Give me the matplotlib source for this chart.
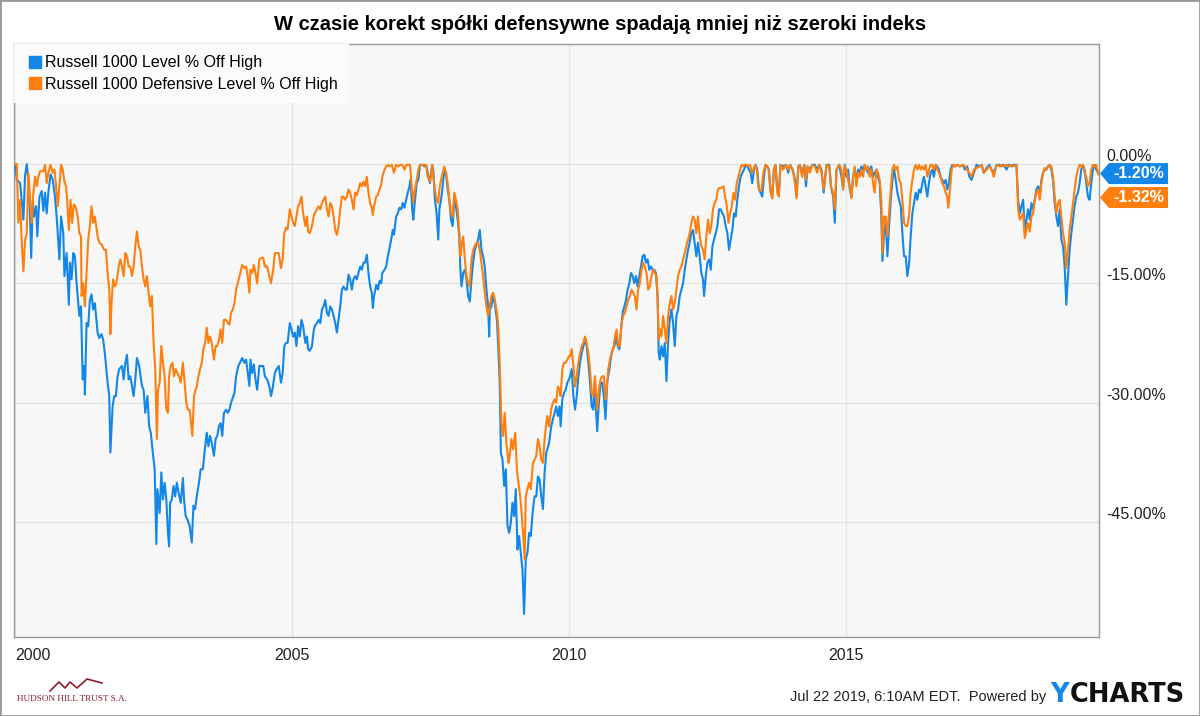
import matplotlib.pyplot as plt
from matplotlib.lines import Line2D
from matplotlib.patches import Polygon, Rectangle
from matplotlib.transforms import IdentityTransform

plt.rcParams['font.family'] = ['Liberation Sans', 'DejaVu Sans']

title = "W czasie korekt spółki defensywne spadają mniej niż szeroki indeks"
series_names = ["Russell 1000 Level % Off High", "Russell 1000 Defensive Level % Off High"]
blue = '#1287e8'
orange = '#ff7f0e'

year_ticks = [2000, 2005, 2010, 2015]
pct_ticks = [0, -15, -30, -45]
footer = "Jul 22 2019, 6:10AM EDT.  Powered by"

# (decimal year, % off high)
r1000_pts = [
    (2000.00, 0.0), (2000.03, -2.0), (2000.09, -2.4), (2000.15, -7.0), (2000.18, -1.5), (2000.21, 0.0),
    (2000.24, -2.0), (2000.27, -6.6), (2000.29, -11.8), (2000.32, -4.5), (2000.34, -6.6), (2000.38, -5.3),
    (2000.40, -9.1), (2000.44, -4.1), (2000.48, -3.4), (2000.51, -5.9), (2000.54, -3.6), (2000.57, -6.2),
    (2000.60, -3.6), (2000.64, -1.3), (2000.68, -2.0), (2000.72, -4.1), (2000.75, -6.6), (2000.80, -12.0),
    (2000.83, -6.6), (2000.87, -8.7), (2000.89, -14.1), (2000.93, -11.2), (2000.97, -17.7), (2000.99, -12.4),
    (2001.02, -14.5), (2001.05, -11.2), (2001.08, -11.6), (2001.11, -15.0), (2001.16, -19.1), (2001.19, -17.9),
    (2001.22, -27.1), (2001.25, -25.4), (2001.26, -29.0), (2001.29, -20.0), (2001.32, -20.4), (2001.35, -17.1),
    (2001.38, -16.4), (2001.41, -18.3), (2001.44, -17.5), (2001.49, -21.2), (2001.52, -21.9), (2001.56, -21.4),
    (2001.59, -22.1), (2001.62, -23.8), (2001.67, -27.5), (2001.70, -29.2), (2001.72, -36.3), (2001.76, -30.5),
    (2001.79, -29.2), (2001.82, -29.2), (2001.85, -26.7), (2001.88, -25.8), (2001.93, -25.4), (2001.96, -27.1),
    (2001.99, -25.0), (2002.02, -24.0), (2002.05, -27.1), (2002.08, -26.7), (2002.11, -27.9), (2002.14, -29.2),
    (2002.17, -27.1), (2002.20, -24.4), (2002.24, -25.4), (2002.29, -27.9), (2002.32, -28.4), (2002.35, -31.3),
    (2002.39, -29.2), (2002.42, -33.0), (2002.45, -33.8), (2002.48, -35.9), (2002.52, -38.4), (2002.55, -47.8),
    (2002.57, -40.9), (2002.61, -43.9), (2002.64, -38.8), (2002.67, -42.2), (2002.70, -40.1), (2002.73, -42.2),
    (2002.76, -46.4), (2002.78, -48.1), (2002.80, -42.6), (2002.83, -42.2), (2002.86, -40.5), (2002.89, -41.8),
    (2002.92, -40.1), (2002.95, -41.3), (2002.99, -42.6), (2003.03, -39.5), (2003.05, -42.2), (2003.08, -44.3),
    (2003.11, -44.7), (2003.15, -45.5), (2003.19, -47.6), (2003.22, -43.0), (2003.25, -43.4), (2003.28, -41.8),
    (2003.32, -40.1), (2003.35, -38.4), (2003.39, -38.4), (2003.42, -36.3), (2003.46, -33.8), (2003.49, -35.5),
    (2003.52, -34.2), (2003.55, -35.1), (2003.59, -36.7), (2003.62, -34.6), (2003.65, -34.2), (2003.68, -33.0),
    (2003.71, -32.6), (2003.74, -34.2), (2003.77, -31.3), (2003.81, -30.9), (2003.84, -31.3), (2003.87, -30.9),
    (2003.90, -30.0), (2003.93, -29.4), (2003.96, -28.8), (2003.99, -26.7), (2004.03, -25.4), (2004.06, -25.0),
    (2004.10, -24.4), (2004.14, -25.0), (2004.17, -24.6), (2004.20, -26.3), (2004.23, -27.9), (2004.25, -24.6),
    (2004.28, -26.3), (2004.31, -25.2), (2004.34, -27.1), (2004.37, -28.4), (2004.41, -25.4), (2004.45, -25.4),
    (2004.48, -25.4), (2004.51, -26.7), (2004.55, -27.1), (2004.59, -27.9), (2004.62, -29.2), (2004.65, -28.2),
    (2004.69, -26.3), (2004.72, -25.8), (2004.76, -25.4), (2004.80, -27.5), (2004.83, -26.3), (2004.86, -22.9),
    (2004.89, -22.5), (2004.92, -22.5),
    (2004.96, -20.0), (2004.99, -20.8), (2005.02, -21.7), (2005.05, -21.2), (2005.08, -22.9), (2005.11, -20.4),
    (2005.14, -21.7), (2005.17, -19.6), (2005.20, -20.4), (2005.24, -22.5), (2005.27, -21.7), (2005.29, -23.3),
    (2005.32, -23.5), (2005.36, -22.9), (2005.39, -21.0), (2005.41, -20.4), (2005.45, -20.0), (2005.48, -19.6),
    (2005.51, -20.0), (2005.54, -18.3), (2005.57, -17.9), (2005.60, -17.1), (2005.63, -18.7), (2005.66, -19.1),
    (2005.69, -17.9), (2005.72, -18.3), (2005.75, -19.1), (2005.78, -20.0), (2005.81, -21.2), (2005.84, -19.6),
    (2005.87, -17.9), (2005.90, -15.8), (2005.93, -15.4), (2005.96, -15.8), (2005.99, -15.8), (2006.02, -13.9),
    (2006.05, -14.5), (2006.08, -15.8), (2006.11, -14.5), (2006.14, -14.1), (2006.17, -14.5), (2006.20, -13.7),
    (2006.23, -12.9), (2006.26, -13.3), (2006.29, -12.4), (2006.32, -12.4), (2006.35, -11.4), (2006.38, -13.7),
    (2006.41, -15.4), (2006.44, -16.2), (2006.46, -18.1), (2006.48, -16.6), (2006.52, -15.2), (2006.55, -15.8),
    (2006.58, -14.7), (2006.61, -15.0), (2006.63, -13.7), (2006.67, -13.3), (2006.70, -12.9), (2006.73, -11.6),
    (2006.76, -10.6), (2006.79, -9.5), (2006.82, -8.3), (2006.84, -8.9), (2006.88, -6.6), (2006.91, -6.2),
    (2006.94, -5.5), (2006.97, -5.7), (2007.00, -4.9), (2007.03, -5.5), (2007.06, -4.5), (2007.09, -3.6),
    (2007.12, -2.8), (2007.14, -2.0), (2007.17, -5.7), (2007.19, -7.0), (2007.21, -5.3), (2007.25, -2.4),
    (2007.28, -2.0), (2007.31, -0.1), (2007.35, -0.1), (2007.39, -0.3), (2007.42, -0.1), (2007.45, -1.1),
    (2007.49, -2.4), (2007.53, -0.1), (2007.55, -0.7), (2007.58, -4.5), (2007.61, -6.2), (2007.64, -9.5),
    (2007.66, -5.7), (2007.69, -4.5), (2007.72, -2.8), (2007.75, -0.7), (2007.78, -1.1), (2007.81, -3.2),
    (2007.84, -4.5), (2007.87, -7.0), (2007.90, -7.8), (2007.93, -4.5), (2007.96, -5.3), (2007.99, -7.0),
    (2008.02, -9.1), (2008.04, -13.3), (2008.06, -15.4), (2008.09, -13.7), (2008.12, -13.3), (2008.15, -14.5),
    (2008.18, -16.6), (2008.21, -17.3), (2008.24, -14.5), (2008.27, -12.4), (2008.30, -10.8), (2008.33, -10.1),
    (2008.36, -9.5), (2008.39, -8.3), (2008.42, -10.8), (2008.45, -11.6), (2008.48, -12.9), (2008.51, -15.8),
    (2008.54, -17.9), (2008.56, -21.7), (2008.57, -18.3), (2008.60, -17.9), (2008.63, -16.6), (2008.66, -17.5),
    (2008.70, -19.6), (2008.72, -22.5), (2008.75, -27.5), (2008.77, -36.3), (2008.80, -37.2), (2008.83, -40.5),
    (2008.86, -38.4), (2008.89, -45.5), (2008.92, -46.4), (2008.95, -45.1), (2008.98, -42.6), (2009.01, -44.3),
    (2009.04, -40.9), (2009.07, -48.5), (2009.10, -46.8), (2009.13, -48.9), (2009.16, -51.0), (2009.19, -56.6),
    (2009.22, -49.7), (2009.25, -48.9), (2009.28, -46.4), (2009.31, -46.8), (2009.35, -43.4), (2009.38, -41.8),
    (2009.41, -41.8), (2009.44, -39.3), (2009.47, -39.7), (2009.50, -41.8), (2009.53, -43.4), (2009.56, -38.8),
    (2009.59, -36.3), (2009.61, -35.9), (2009.64, -35.1), (2009.68, -33.0), (2009.71, -32.1), (2009.74, -31.3),
    (2009.77, -30.5), (2009.80, -31.7), (2009.83, -30.5), (2009.85, -33.0), (2009.88, -29.6), (2009.91, -28.8),
    (2009.94, -28.4), (2009.97, -27.5), (2010.00, -27.1),
    (2010.02, -26.7), (2010.05, -25.8), (2010.08, -29.2), (2010.11, -30.9), (2010.14, -29.2), (2010.17, -26.7),
    (2010.20, -25.0), (2010.23, -23.8), (2010.26, -22.9), (2010.29, -22.1), (2010.32, -22.9), (2010.35, -25.0),
    (2010.38, -27.5), (2010.41, -30.5), (2010.44, -30.9), (2010.46, -27.5), (2010.48, -30.0), (2010.51, -33.6),
    (2010.54, -30.0), (2010.57, -27.5), (2010.60, -27.5), (2010.63, -29.2), (2010.66, -32.1), (2010.69, -27.5),
    (2010.73, -25.8), (2010.76, -24.2), (2010.79, -23.3), (2010.82, -22.9), (2010.85, -21.7), (2010.88, -22.9),
    (2010.91, -23.3), (2010.94, -20.8), (2010.97, -18.7), (2011.00, -17.9), (2011.03, -17.1), (2011.06, -15.8),
    (2011.09, -15.0), (2011.12, -13.7), (2011.15, -14.1), (2011.18, -15.0), (2011.21, -14.1), (2011.24, -15.4),
    (2011.27, -14.1), (2011.30, -12.9), (2011.33, -11.6), (2011.36, -11.4), (2011.39, -12.4), (2011.42, -12.0),
    (2011.45, -13.3), (2011.48, -12.9), (2011.51, -13.3), (2011.54, -13.3), (2011.57, -13.7), (2011.60, -16.6),
    (2011.62, -23.8), (2011.64, -24.6), (2011.67, -22.9), (2011.70, -24.2), (2011.73, -22.5), (2011.76, -27.3),
    (2011.79, -22.5), (2011.82, -19.6), (2011.85, -18.3), (2011.88, -20.0), (2011.91, -22.9), (2011.94, -19.1),
    (2011.97, -18.3), (2012.00, -16.6), (2012.03, -15.8), (2012.06, -15.0), (2012.09, -13.3), (2012.12, -12.0),
    (2012.15, -10.8), (2012.18, -9.9), (2012.21, -8.7), (2012.24, -8.3), (2012.27, -9.9), (2012.30, -11.6),
    (2012.33, -9.9), (2012.36, -11.6), (2012.39, -13.7), (2012.42, -14.5), (2012.44, -16.6), (2012.47, -14.1),
    (2012.50, -12.4), (2012.53, -12.0), (2012.56, -13.3), (2012.59, -10.3), (2012.62, -9.5), (2012.65, -8.7),
    (2012.68, -7.8), (2012.71, -5.7), (2012.74, -5.7), (2012.77, -6.2), (2012.80, -6.6), (2012.83, -7.8),
    (2012.86, -8.7), (2012.89, -10.8), (2012.92, -9.5), (2012.95, -8.3), (2012.98, -6.2), (2013.01, -6.6),
    (2013.04, -4.5), (2013.07, -2.8), (2013.10, -1.6), (2013.13, -1.1), (2013.16, -0.7), (2013.19, -0.1),
    (2013.22, -0.3), (2013.25, -0.7), (2013.28, -1.1), (2013.31, -2.4), (2013.34, -0.7), (2013.37, -0.1),
    (2013.40, -0.7), (2013.43, -3.2), (2013.46, -3.6), (2013.49, -4.1), (2013.52, -1.6), (2013.55, -0.1),
    (2013.58, -0.3), (2013.61, -0.7), (2013.64, -3.2), (2013.67, -4.3), (2013.70, -0.7), (2013.73, -0.1),
    (2013.76, -3.2), (2013.79, -3.6), (2013.82, -0.1), (2013.87, -0.3), (2013.92, -0.1), (2013.96, -1.1),
    (2013.99, -0.1), (2014.04, -0.7), (2014.08, -2.0), (2014.11, -4.1), (2014.14, -0.3), (2014.17, -0.1),
    (2014.21, -1.1), (2014.25, -0.1), (2014.28, -2.8), (2014.31, -0.3), (2014.35, -0.7), (2014.39, -0.1),
    (2014.44, -0.1), (2014.48, -0.7), (2014.52, -0.1), (2014.56, -0.7), (2014.60, -3.6), (2014.65, -0.1),
    (2014.70, -0.1), (2014.73, -2.8), (2014.77, -4.1), (2014.80, -7.4), (2014.83, -0.7), (2014.88, -0.1),
    (2014.92, -1.6), (2014.95, -3.2), (2014.98, -0.1), (2015.01, -1.6), (2015.04, -0.7), (2015.07, -3.2),
    (2015.10, -4.1), (2015.13, -1.6), (2015.16, -0.7), (2015.19, -2.0), (2015.22, -0.7), (2015.25, -1.1),
    (2015.28, -0.3), (2015.31, -0.7), (2015.34, -0.1), (2015.37, -0.7), (2015.40, -1.1), (2015.43, -0.7),
    (2015.46, -0.3), (2015.49, -1.6), (2015.52, -1.1), (2015.55, -0.7), (2015.58, -1.6), (2015.61, -2.4),
    (2015.64, -6.6), (2015.66, -12.2), (2015.69, -8.7), (2015.72, -7.4), (2015.75, -11.6), (2015.78, -7.8),
    (2015.81, -4.5), (2015.84, -2.0), (2015.87, -0.7), (2015.90, -2.0), (2015.93, -3.6), (2015.96, -4.5),
    (2015.99, -5.3), (2016.02, -8.7), (2016.05, -11.6), (2016.08, -11.6), (2016.11, -14.1), (2016.14, -12.6),
    (2016.17, -9.1), (2016.20, -6.2), (2016.23, -4.9), (2016.26, -3.6), (2016.29, -4.5), (2016.32, -3.2),
    (2016.35, -3.6), (2016.38, -2.4), (2016.41, -1.6), (2016.44, -2.8), (2016.47, -4.1), (2016.50, -2.4),
    (2016.53, -1.1), (2016.56, -0.7), (2016.59, -1.6), (2016.62, -0.1), (2016.65, -0.3), (2016.68, -0.7),
    (2016.71, -1.6), (2016.74, -2.0), (2016.77, -2.4), (2016.80, -2.0), (2016.83, -3.2), (2016.86, -2.4),
    (2016.89, -0.7), (2016.92, -0.1), (2016.97, -0.3), (2017.01, -0.1), (2017.06, -0.3), (2017.11, -0.1),
    (2017.15, -0.7), (2017.19, -0.3), (2017.23, -1.6), (2017.27, -2.0), (2017.31, -1.1), (2017.36, -0.1),
    (2017.41, -0.3), (2017.45, -0.1), (2017.49, -1.1), (2017.54, -0.5), (2017.59, -0.1), (2017.63, -0.7),
    (2017.67, -1.1), (2017.72, -0.1), (2017.77, -0.1), (2017.81, -0.3), (2017.85, -0.1), (2017.90, -0.7),
    (2017.94, -0.1), (2017.99, -0.3), (2018.03, -0.1), (2018.08, -0.1), (2018.11, -4.5), (2018.14, -6.2),
    (2018.17, -5.3), (2018.20, -4.5), (2018.23, -8.3), (2018.26, -7.0), (2018.29, -5.7), (2018.32, -7.0),
    (2018.35, -4.9), (2018.38, -5.7), (2018.41, -4.5), (2018.44, -3.2), (2018.47, -2.8), (2018.50, -4.1),
    (2018.53, -2.0), (2018.56, -1.1), (2018.59, -0.7), (2018.62, -0.7), (2018.65, -0.3), (2018.68, -0.1),
    (2018.71, -0.7), (2018.74, -2.0), (2018.77, -4.9), (2018.80, -6.6), (2018.83, -7.8), (2018.86, -5.7),
    (2018.89, -9.5), (2018.92, -10.3), (2018.95, -12.9), (2018.98, -17.7), (2019.01, -14.1), (2019.04, -10.8),
    (2019.07, -8.7), (2019.10, -7.0), (2019.13, -5.3), (2019.16, -4.1), (2019.19, -3.6), (2019.22, -2.4),
    (2019.25, -0.7), (2019.28, -0.1), (2019.31, -0.7), (2019.34, -2.4), (2019.37, -4.1), (2019.40, -4.5),
    (2019.43, -2.4), (2019.46, -0.7), (2019.49, -0.1), (2019.52, -0.7), (2019.56, -1.20),
]

defensive_pts = [
    (2000.00, 0.0), (2000.03, 0.0), (2000.06, -7.4), (2000.09, -4.5), (2000.12, -9.9), (2000.15, -13.5),
    (2000.18, -9.5), (2000.21, -8.7), (2000.24, -1.1), (2000.27, -4.5), (2000.30, -7.4), (2000.33, -3.6),
    (2000.36, -1.6), (2000.39, -2.8), (2000.42, -1.6), (2000.45, -0.9), (2000.51, -0.9), (2000.54, -0.1),
    (2000.57, -2.4), (2000.60, -1.1), (2000.64, -0.1), (2000.68, -1.1), (2000.71, -0.7), (2000.74, -2.8),
    (2000.77, -5.3), (2000.80, -2.8), (2000.83, -0.1), (2000.86, -0.7), (2000.89, -2.2), (2000.92, -2.8),
    (2000.94, -4.5), (2000.97, -8.3), (2001.00, -4.5), (2001.03, -7.4), (2001.06, -5.1), (2001.09, -5.3),
    (2001.13, -6.6), (2001.16, -8.7), (2001.19, -9.1), (2001.20, -16.6), (2001.23, -15.0), (2001.26, -17.9),
    (2001.29, -13.7), (2001.32, -9.5), (2001.35, -7.8), (2001.38, -5.3), (2001.41, -7.4), (2001.44, -6.6),
    (2001.49, -9.1), (2001.52, -9.9), (2001.56, -10.1), (2001.61, -10.8), (2001.64, -10.8), (2001.67, -13.7),
    (2001.70, -15.8), (2001.72, -21.4), (2001.74, -17.5), (2001.77, -14.5), (2001.80, -15.4), (2001.83, -15.0),
    (2001.87, -12.9), (2001.90, -12.0), (2001.93, -12.9), (2001.96, -14.1), (2001.99, -11.2), (2002.02, -11.6),
    (2002.05, -12.9), (2002.08, -12.9), (2002.11, -14.1), (2002.14, -12.9), (2002.17, -10.3), (2002.20, -8.5),
    (2002.23, -10.3), (2002.26, -10.8), (2002.29, -12.9), (2002.32, -14.5), (2002.35, -15.4), (2002.38, -14.1),
    (2002.41, -16.2), (2002.44, -17.9), (2002.47, -16.6), (2002.50, -22.5), (2002.53, -25.8), (2002.56, -34.6),
    (2002.58, -28.4), (2002.61, -27.5), (2002.64, -22.9), (2002.67, -25.0), (2002.70, -26.7), (2002.73, -30.9),
    (2002.76, -31.3), (2002.78, -26.7), (2002.81, -25.4), (2002.84, -25.0), (2002.87, -26.7), (2002.90, -25.8),
    (2002.93, -26.3), (2002.96, -26.7), (2002.99, -27.5), (2003.03, -25.0), (2003.06, -27.5), (2003.09, -30.0),
    (2003.12, -30.9), (2003.15, -30.9), (2003.17, -32.1), (2003.20, -34.2), (2003.23, -29.2), (2003.26, -28.4),
    (2003.28, -28.0), (2003.31, -26.7), (2003.34, -25.8), (2003.37, -25.0), (2003.40, -23.3), (2003.43, -22.5),
    (2003.46, -20.6), (2003.49, -22.5), (2003.52, -21.7), (2003.55, -22.5), (2003.59, -24.6), (2003.62, -22.9),
    (2003.65, -22.9), (2003.68, -22.1), (2003.71, -20.8), (2003.74, -22.5), (2003.77, -19.6), (2003.81, -19.6),
    (2003.84, -20.0), (2003.87, -20.2), (2003.90, -18.7), (2003.93, -18.3), (2003.96, -17.5), (2003.99, -15.8),
    (2004.02, -15.0), (2004.06, -13.9), (2004.10, -12.7), (2004.14, -13.1), (2004.17, -12.9), (2004.20, -14.1),
    (2004.23, -16.2), (2004.25, -13.3), (2004.28, -13.7), (2004.31, -12.7), (2004.34, -13.7), (2004.37, -15.0),
    (2004.41, -12.0), (2004.45, -11.8), (2004.48, -11.8), (2004.51, -12.9), (2004.55, -12.9), (2004.59, -14.1),
    (2004.62, -15.0), (2004.66, -13.3), (2004.69, -11.2), (2004.72, -11.2), (2004.76, -11.2), (2004.80, -13.1),
    (2004.83, -12.0), (2004.86, -8.7), (2004.89, -8.0), (2004.92, -8.2),
    (2004.96, -5.7), (2004.99, -6.6), (2005.02, -7.4), (2005.05, -7.8), (2005.08, -6.6), (2005.11, -5.3),
    (2005.14, -4.9), (2005.17, -4.1), (2005.20, -6.2), (2005.24, -7.8), (2005.27, -6.6), (2005.29, -8.5),
    (2005.32, -8.7), (2005.36, -7.8), (2005.39, -6.6), (2005.41, -6.2), (2005.45, -5.7), (2005.48, -5.3),
    (2005.51, -5.7), (2005.54, -4.9), (2005.57, -4.5), (2005.60, -4.1), (2005.63, -5.7), (2005.66, -6.6),
    (2005.69, -4.9), (2005.72, -5.3), (2005.75, -6.6), (2005.78, -8.3), (2005.81, -8.9), (2005.84, -7.8),
    (2005.87, -5.7), (2005.90, -4.1), (2005.93, -4.1), (2005.96, -4.5), (2005.99, -4.1), (2006.02, -3.2),
    (2006.05, -3.6), (2006.08, -4.5), (2006.11, -5.7), (2006.14, -3.6), (2006.17, -3.9), (2006.20, -3.2),
    (2006.23, -2.4), (2006.26, -2.8), (2006.29, -2.2), (2006.32, -2.8), (2006.35, -1.6), (2006.38, -3.6),
    (2006.41, -4.9), (2006.44, -5.5), (2006.46, -6.4), (2006.48, -5.3), (2006.52, -4.1), (2006.55, -3.9),
    (2006.58, -3.2), (2006.61, -2.6), (2006.63, -1.6), (2006.67, -0.7), (2006.70, -0.3), (2006.73, -0.1),
    (2006.76, -0.3), (2006.80, -0.1), (2006.84, -1.1), (2006.88, -0.1), (2006.92, -0.3), (2006.95, -0.1),
    (2006.99, -0.1), (2007.03, -0.7), (2007.06, -0.1), (2007.10, -0.1), (2007.13, -0.1), (2007.16, -2.8),
    (2007.19, -4.9), (2007.21, -3.6), (2007.25, -2.0), (2007.28, -0.7), (2007.31, -0.1), (2007.35, -0.1),
    (2007.39, -0.1), (2007.42, -0.1), (2007.45, -1.6), (2007.49, -2.2), (2007.53, -0.1), (2007.55, -1.6),
    (2007.58, -3.2), (2007.61, -4.5), (2007.64, -4.9), (2007.66, -3.2), (2007.69, -2.0), (2007.72, -1.1),
    (2007.75, -0.3), (2007.78, -1.1), (2007.81, -2.4), (2007.84, -4.5), (2007.87, -6.2), (2007.90, -6.6),
    (2007.93, -3.6), (2007.96, -4.5), (2007.99, -5.7), (2008.02, -8.7), (2008.04, -11.6), (2008.06, -10.3),
    (2008.09, -9.1), (2008.12, -12.0), (2008.15, -14.1), (2008.18, -15.0), (2008.21, -15.4), (2008.24, -12.0),
    (2008.27, -10.8), (2008.30, -10.3), (2008.33, -9.9), (2008.36, -9.9), (2008.39, -10.8), (2008.42, -12.4),
    (2008.45, -14.1), (2008.48, -16.2), (2008.51, -17.9), (2008.54, -19.1), (2008.57, -17.9), (2008.60, -16.6),
    (2008.63, -16.2), (2008.66, -17.0), (2008.70, -18.7), (2008.72, -20.0), (2008.75, -25.0), (2008.78, -32.6),
    (2008.81, -34.2), (2008.84, -31.3), (2008.87, -35.1), (2008.91, -37.6), (2008.93, -36.7), (2008.96, -34.6),
    (2008.99, -35.9), (2009.03, -33.8), (2009.06, -38.4), (2009.08, -39.7), (2009.12, -41.8), (2009.15, -44.3),
    (2009.18, -47.6), (2009.20, -49.7), (2009.22, -41.8), (2009.25, -40.9), (2009.28, -40.1), (2009.31, -40.9),
    (2009.35, -37.6), (2009.38, -37.2), (2009.41, -36.7), (2009.44, -34.6), (2009.47, -35.5), (2009.50, -37.2),
    (2009.53, -37.6), (2009.56, -34.6), (2009.59, -32.6), (2009.61, -31.7), (2009.64, -33.0), (2009.68, -30.9),
    (2009.71, -30.0), (2009.74, -29.6), (2009.77, -30.0), (2009.80, -28.0), (2009.83, -28.4), (2009.85, -29.2),
    (2009.88, -25.8), (2009.91, -25.0), (2009.94, -25.0), (2009.97, -24.6), (2010.00, -24.2),
    (2010.02, -24.2), (2010.05, -23.3), (2010.08, -25.4), (2010.11, -28.0), (2010.14, -26.7), (2010.17, -25.0),
    (2010.20, -23.8), (2010.23, -22.9), (2010.26, -22.5), (2010.29, -21.7), (2010.32, -22.5), (2010.35, -23.8),
    (2010.38, -25.8), (2010.41, -28.8), (2010.44, -29.2), (2010.47, -26.7), (2010.51, -30.9), (2010.54, -28.4),
    (2010.57, -27.1), (2010.60, -26.7), (2010.63, -26.7), (2010.66, -29.6), (2010.68, -28.4), (2010.71, -25.8),
    (2010.74, -24.6), (2010.77, -23.8), (2010.80, -23.3), (2010.83, -21.7), (2010.86, -20.8), (2010.89, -22.9),
    (2010.92, -22.9), (2010.95, -20.0), (2010.98, -19.1), (2011.01, -18.7), (2011.04, -17.9), (2011.07, -17.1),
    (2011.10, -16.6), (2011.13, -15.8), (2011.16, -16.2), (2011.19, -16.6), (2011.22, -18.3), (2011.25, -15.8),
    (2011.28, -15.0), (2011.31, -13.3), (2011.34, -12.4), (2011.37, -12.9), (2011.40, -13.7), (2011.43, -15.8),
    (2011.46, -15.4), (2011.49, -14.1), (2011.52, -13.3), (2011.55, -13.7), (2011.58, -14.1), (2011.60, -16.6),
    (2011.62, -22.1), (2011.64, -20.8), (2011.67, -21.7), (2011.70, -19.1), (2011.73, -20.8), (2011.76, -22.5),
    (2011.79, -19.1), (2011.82, -17.5), (2011.85, -16.6), (2011.88, -18.3), (2011.91, -17.5), (2011.94, -15.8),
    (2011.97, -14.1), (2012.00, -13.3), (2012.03, -12.9), (2012.06, -12.0), (2012.09, -11.2), (2012.12, -10.3),
    (2012.15, -9.5), (2012.18, -8.7), (2012.21, -7.4), (2012.24, -6.6), (2012.27, -7.0), (2012.30, -8.7),
    (2012.33, -6.6), (2012.36, -9.1), (2012.39, -10.3), (2012.42, -10.8), (2012.45, -12.0), (2012.48, -9.1),
    (2012.51, -7.0), (2012.54, -8.7), (2012.57, -7.8), (2012.60, -5.7), (2012.63, -4.9), (2012.66, -4.5),
    (2012.69, -3.2), (2012.72, -3.0), (2012.75, -3.0), (2012.79, -2.8), (2012.82, -4.1), (2012.85, -5.3),
    (2012.88, -7.4), (2012.91, -6.2), (2012.94, -5.3), (2012.97, -3.6), (2013.00, -4.5), (2013.03, -2.4),
    (2013.06, -1.6), (2013.09, -0.7), (2013.12, -0.1), (2013.15, -0.3), (2013.18, -0.1), (2013.21, -0.1),
    (2013.24, -0.3), (2013.27, -0.1), (2013.30, -1.1), (2013.33, -0.7), (2013.36, -0.1), (2013.39, -0.7),
    (2013.42, -2.8), (2013.45, -3.4), (2013.48, -3.2), (2013.51, -1.1), (2013.55, -0.1), (2013.60, -0.5),
    (2013.64, -3.6), (2013.67, -4.3), (2013.70, -0.7), (2013.73, -0.1), (2013.76, -3.6), (2013.79, -4.1),
    (2013.82, -0.1), (2013.87, -0.7), (2013.92, -0.1), (2013.96, -0.7), (2014.00, -0.1), (2014.05, -1.1),
    (2014.08, -2.4), (2014.11, -4.3), (2014.14, -0.5), (2014.17, -0.1), (2014.21, -1.6), (2014.25, -0.1),
    (2014.28, -2.0), (2014.31, -0.3), (2014.35, -1.1), (2014.39, -0.1), (2014.44, -0.3), (2014.48, -1.1),
    (2014.52, -0.1), (2014.56, -1.1), (2014.60, -3.2), (2014.65, -0.1), (2014.70, -0.3), (2014.73, -2.8),
    (2014.77, -3.6), (2014.80, -5.7), (2014.83, -0.7), (2014.88, -0.1),
    (2014.92, -0.7), (2014.95, -3.2), (2014.98, -0.3), (2015.01, -0.7), (2015.04, -2.0), (2015.07, -2.8),
    (2015.10, -4.3), (2015.13, -1.6), (2015.16, -0.3), (2015.19, -2.8), (2015.22, -1.1), (2015.25, -1.6),
    (2015.28, -0.7), (2015.31, -1.6), (2015.34, -0.1), (2015.37, -0.7), (2015.40, -0.3), (2015.43, -1.6),
    (2015.46, -0.7), (2015.49, -2.4), (2015.52, -3.6), (2015.55, -0.7), (2015.58, -1.1), (2015.61, -2.0),
    (2015.64, -4.5), (2015.66, -11.2), (2015.69, -6.6), (2015.72, -6.6), (2015.75, -9.1), (2015.78, -6.2),
    (2015.81, -3.2), (2015.84, -0.7), (2015.87, -0.1), (2015.90, -0.7), (2015.93, -0.3), (2015.96, -2.0),
    (2015.99, -2.4), (2016.02, -4.5), (2016.05, -7.4), (2016.08, -7.8), (2016.11, -7.8), (2016.14, -6.6),
    (2016.17, -3.6), (2016.20, -2.0), (2016.23, -0.7), (2016.26, -0.1), (2016.29, -0.7), (2016.32, -0.1),
    (2016.35, -0.7), (2016.38, -0.3), (2016.41, -0.7), (2016.44, -0.1), (2016.47, -1.6), (2016.50, -0.7),
    (2016.53, -0.1), (2016.56, -0.1), (2016.59, -0.7), (2016.62, -0.1), (2016.65, -0.7), (2016.68, -1.1),
    (2016.71, -1.6), (2016.74, -2.4), (2016.77, -2.8), (2016.80, -3.6), (2016.83, -4.1), (2016.85, -5.5),
    (2016.88, -3.2), (2016.91, -0.7), (2016.94, -0.1), (2016.97, -0.3), (2017.01, -0.1), (2017.06, -0.3),
    (2017.11, -0.1), (2017.15, -0.3), (2017.19, -0.7), (2017.23, -1.1), (2017.27, -1.6), (2017.31, -0.7),
    (2017.36, -0.5), (2017.41, -0.3), (2017.45, -0.1), (2017.49, -1.1), (2017.54, -0.7), (2017.59, -0.3),
    (2017.63, -0.7), (2017.67, -1.6), (2017.72, -0.1), (2017.77, -0.3), (2017.81, -0.1), (2017.85, -0.3),
    (2017.90, -0.1), (2017.94, -0.3), (2017.99, -0.1), (2018.03, -0.3), (2018.08, -0.1), (2018.11, -5.7),
    (2018.14, -7.0), (2018.17, -6.6), (2018.20, -6.2), (2018.23, -9.3), (2018.26, -8.3), (2018.29, -7.4),
    (2018.32, -8.5), (2018.35, -6.6), (2018.38, -6.2), (2018.41, -4.5), (2018.44, -3.6), (2018.47, -3.2),
    (2018.50, -4.5), (2018.53, -2.4), (2018.56, -1.1), (2018.59, -0.5), (2018.62, -0.7), (2018.65, -0.3),
    (2018.68, -0.1), (2018.71, -0.3), (2018.74, -1.6), (2018.77, -4.1), (2018.80, -6.2), (2018.83, -4.9),
    (2018.86, -4.5), (2018.89, -6.6), (2018.92, -8.7), (2018.95, -9.9), (2018.98, -13.1), (2019.01, -10.8),
    (2019.04, -8.3), (2019.07, -6.6), (2019.10, -4.9), (2019.13, -3.2), (2019.16, -1.6), (2019.19, -0.7),
    (2019.22, -0.1), (2019.25, -0.3), (2019.28, -0.1), (2019.31, -1.1), (2019.34, -1.6), (2019.37, -2.8),
    (2019.40, -2.4), (2019.43, -0.7), (2019.46, -0.1), (2019.49, -0.3), (2019.52, -0.1), (2019.56, -1.32),
]

r1000_x, r1000_y = zip(*r1000_pts)
def_x, def_y = zip(*defensive_pts)

W, H = 1200, 716
fig = plt.figure(figsize=(W / 100, H / 100), dpi=100)
ax = fig.add_axes([14 / W, 79 / H, 1085 / W, 593 / H])
ax.set_facecolor('#f7f7f7')

ax.plot(r1000_x, r1000_y, color=blue, lw=1.5, zorder=3, solid_joinstyle='round')
ax.plot(def_x, def_y, color=orange, lw=1.5, zorder=4, solid_joinstyle='round')

ax.set_xlim(1999.98, 2019.57)
ax.set_ylim(-59.5, 15.1)
ax.set_xticks(year_ticks)
ax.set_xticklabels([str(y) for y in year_ticks])
ax.set_yticks(pct_ticks)
ax.set_yticklabels([f'{v:.2f}%' for v in pct_ticks])
ax.yaxis.tick_right()
ax.tick_params(length=0, labelsize=11.5, colors='#222222')
ax.tick_params(axis='x', pad=8)
ax.tick_params(axis='y', pad=5)
for lab in ax.get_yticklabels():
    lab.set_verticalalignment('bottom')
ax.get_xticklabels()[0].set_horizontalalignment('left')
ax.grid(True, color='#e4e4e4', lw=1)
ax.set_axisbelow(True)
for s in ax.spines.values():
    s.set_color('#999999')
    s.set_linewidth(1)

handles = [Line2D([], [], marker='s', ls='none', color=c, markersize=8) for c in (blue, orange)]
leg = ax.legend(handles, series_names, loc='upper left', bbox_to_anchor=(0, 1), borderaxespad=0,
                fancybox=False, facecolor='#fbfbfb', edgecolor='none', framealpha=1, fontsize=11.5,
                handlelength=1.25, handletextpad=0.0, borderpad=0.7, labelspacing=0.42)
leg.set_zorder(6)

# end-of-series value tags on the right
def value_tag(val, shift_px, color):
    y = ax.transData.transform((0, val))[1] - shift_px
    x0 = ax.transAxes.transform((1, 0))[0]
    pts = [(x0 + 1, y), (x0 + 10, y + 10.5), (x0 + 69, y + 10.5), (x0 + 69, y - 10.5), (x0 + 10, y - 10.5)]
    fig.add_artist(Polygon(pts, closed=True, facecolor=color, edgecolor='none', transform=IdentityTransform()))
    fig.text((x0 + 40) / W, y / H, f'{val:.2f}%', color='white', fontsize=11.5, fontweight='bold',
             ha='center', va='center')

value_tag(r1000_y[-1], 0, blue)
value_tag(def_y[-1], 23, orange)

fig.text(0.5, (H - 24) / H, title, ha='center', va='center', fontsize=14.5, fontweight='bold')

# footer
fig.text(1046 / W, (H - 697) / H, footer, ha='right', va='center', fontsize=10.5, color='#222222')
t_charts = fig.text(1185 / W, (H - 695) / H, 'CHARTS', ha='right', va='center', fontsize=18.5,
                    fontweight='bold', family='DejaVu Sans', color='#111111')
r = fig.canvas.get_renderer()
bb = t_charts.get_window_extent(r)
fig.text((bb.x0 - 1) / W, (H - 695) / H, 'Y', ha='right', va='center', fontsize=18.5,
         fontweight='bold', family='DejaVu Sans', color=blue)

# Hudson Hill logo
logo_x = [50, 59, 65, 70, 77, 87, 102]
logo_y = [691, 682, 688, 682, 688, 679, 683]
fig.add_artist(Line2D([v / W for v in logo_x], [(H - v) / H for v in logo_y], color='#8b1c2c', lw=1.2,
                      transform=fig.transFigure))
fig.text(17 / W, (H - 699) / H, 'HUDSON HILL TRUST S.A.', ha='left', va='center', fontsize=6.6,
         family='Liberation Serif', color='#8b1c2c')

fig.add_artist(Rectangle((0, 0), 1, 1, transform=fig.transFigure, fill=False, edgecolor='#999999', lw=2))

fig.savefig('out.png', dpi=100)
